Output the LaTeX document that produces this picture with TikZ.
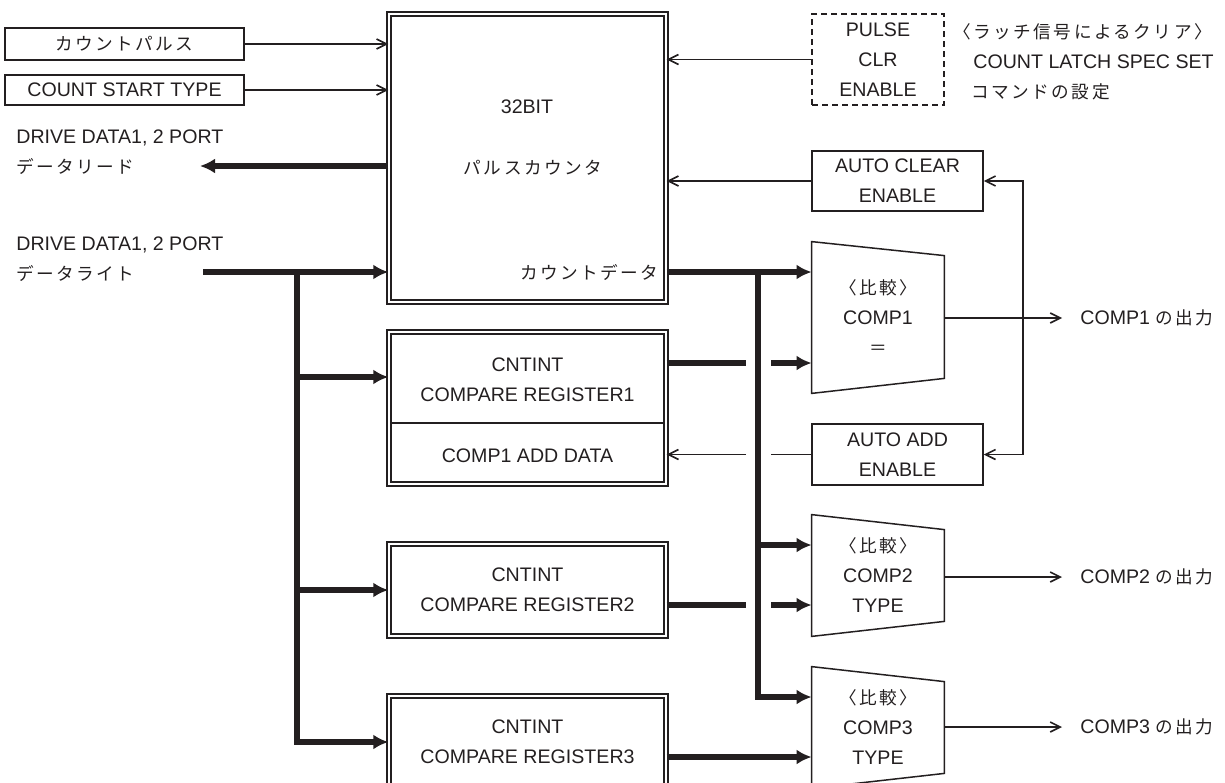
\documentclass[tikz,border=0pt]{standalone}
\usepackage{fontspec}
\setmainfont{Liberation Sans}
\newfontfamily\jp{Noto Sans CJK JP}[Scale=0.9,LetterSpace=14]
\usetikzlibrary{arrows.meta,calc}
\definecolor{ink}{HTML}{231F20}

\begin{document}
\begin{tikzpicture}[x=0.5pt,y=-0.5pt,
  every node/.style={text=ink,inner sep=0pt,align=center,font=\fontsize{9.8}{15}\selectfont},
  box/.style={draw=ink,line width=0.75pt},
  dbox/.style={draw=ink,double,double distance=1.2pt,line width=0.7pt},
  sig/.style={draw=ink,line width=0.8pt,-{Straight Barb[length=5pt,width=5pt]}},
  sigl/.style={draw=ink,line width=0.8pt},
  bus/.style={draw=ink,line width=2.6pt,-{Latex[length=7.5pt,width=7.5pt]}},
  busl/.style={draw=ink,line width=2.6pt},
  cmpbox/.style={minimum width=66pt}]
  \useasboundingbox (0,0) rectangle (1225,782);
  \clip (0,0) rectangle (1225,782);
  % counter block
  \node[dbox,minimum width=138.5pt,minimum height=144pt] (cnt) at (527.5,158) {};
  \node (cnt32) at (527,107) {32BIT};
  \node (cntjp) at (533,168) {\jp パルスカウンタ};
  \coordinate (cbus) at (758,272);
  \node[anchor=east] (cntdat) at ($(cnt.east |- cbus)+(-8,0)$) {\jp カウントデータ};
  % inputs on the left
  \node[box,minimum width=119.5pt,minimum height=16pt] (pls) at (124.5,44) {\jp カウントパルス};
  \node[box,minimum width=119.5pt,minimum height=15pt] (cst) at (124.5,90) {COUNT START TYPE};
  \draw[sig] (pls.east) -- (pls.east -| cnt.west);
  \draw[sig] (cst.east) -- (cst.east -| cnt.west);
  \node[anchor=west,align=left] (rdtxt) at (16,152) {DRIVE DATA1, 2 PORT\\{\jp データリード}};
  \node[anchor=west,align=left] (wrtxt) at (16,259) {DRIVE DATA1, 2 PORT\\{\jp データライト}};
  \coordinate (rdend) at (200,166);
  \coordinate (wrst) at (203,272);
  \coordinate (lbus) at (297,272);
  \draw[bus] (rdend -| cnt.west) -- (rdend);
  \draw[bus] (wrst) -- (wrst -| cnt.west);
  % latch clear and auto clear
  \node[box,dash pattern=on 3pt off 2pt,minimum width=66pt,minimum height=45.5pt] (clr) at (878,59.5) {PULSE\\CLR\\ENABLE};
  \node[anchor=west] (nt1) at (953,32) {\jp 〈ラッチ信号によるクリア〉};
  \node[anchor=west] (nt2) at (973,62) {COUNT LATCH SPEC SET};
  \node[anchor=west] (nt3) at (971,92) {\jp コマンドの設定};
  \draw[sig] (clr.west) -- (clr.west -| cnt.east);
  \node[box,minimum width=85.5pt,minimum height=30pt] (aclr) at (897.5,181) {AUTO CLEAR\\ENABLE};
  \draw[sig] (aclr.west) -- (aclr.west -| cnt.east);
  % compare registers
  \node[dbox,minimum width=138.5pt,minimum height=76pt] (reg1) at (527.5,408) {};
  \draw[sigl] ($(reg1.west)+(2,15)$) -- ($(reg1.east)+(-2,15)$);
  \node (reg1a) at (527.5,380) {CNTINT\\COMPARE REGISTER1};
  \node (reg1b) at (527.5,456) {COMP1 ADD DATA};
  \node[dbox,minimum width=138.5pt,minimum height=46pt] (reg2) at (527.5,590) {CNTINT\\COMPARE REGISTER2};
  \node[dbox,minimum width=138.5pt,minimum height=46pt] (reg3) at (527.5,742) {CNTINT\\COMPARE REGISTER3};
  \coordinate (r1in) at ([yshift=15.5pt]reg1.west);
  \draw[bus] (lbus) |- (reg3.west);
  \draw[bus] (lbus |- r1in) -- (r1in);
  \draw[bus] (lbus |- reg2.west) -- (reg2.west);
  % comparators
  \node[cmpbox,minimum height=75.5pt] (cmp1) at (878,317.5) {{\jp 〈比較〉}\\COMP1\\{\jp ＝}};
  \node[cmpbox,minimum height=60.5pt] (cmp2) at (878,575.5) {{\jp 〈比較〉}\\COMP2\\TYPE};
  \node[cmpbox,minimum height=60.5pt] (cmp3) at (878,727.5) {{\jp 〈比較〉}\\COMP3\\TYPE};
  \draw[box] (cmp1.north west) -- ([yshift=-7pt]cmp1.north east) -- ([yshift=7.5pt]cmp1.south east) -- (cmp1.south west) -- cycle;
  \foreach \c in {cmp2,cmp3}
    \draw[box] (\c.north west) -- ([yshift=-7.5pt]\c.north east) -- ([yshift=7.5pt]\c.south east) -- (\c.south west) -- cycle;
  % count data bus
  \coordinate (gapl) at (746,0);
  \coordinate (gapr) at (771,0);
  \coordinate (c2in) at ([yshift=15.25pt]cmp2.west);
  \coordinate (c3in) at ([yshift=15.25pt]cmp3.west);
  \draw[bus] (cbus -| cnt.east) -- (cbus -| cmp1.west);
  \draw[bus] (cbus) |- (c3in);
  \draw[bus] (cbus |- c2in) -- (c2in);
  % register outputs, broken where they cross the bus
  \coordinate (r1out) at ([yshift=22.5pt]reg1.east);
  \coordinate (r2out) at ([yshift=-7.5pt]reg2.east);
  \coordinate (r3out) at ([yshift=-7.5pt]reg3.east);
  \draw[busl] (r1out) -- (r1out -| gapl);
  \draw[bus] (r1out -| gapr) -- (r1out -| cmp1.west);
  \draw[busl] (r2out) -- (r2out -| gapl);
  \draw[bus] (r2out -| gapr) -- (r2out -| cmp2.west);
  \draw[bus] (r3out) -- (r3out -| cmp3.west);
  % auto add
  \node[box,minimum width=85.5pt,minimum height=30.5pt] (aadd) at (897.5,454.5) {AUTO ADD\\ENABLE};
  \draw[sigl] (aadd.west) -- (aadd.west -| gapr);
  \draw[sig] (aadd.west -| gapl) -- (aadd.west -| reg1.east);
  % outputs
  \node[anchor=west] (out1) at (1080,318) {COMP1 {\jp の出力}};
  \node[anchor=west] (out2) at (1080,577) {COMP2 {\jp の出力}};
  \node[anchor=west] (out3) at (1080,727) {COMP3 {\jp の出力}};
  \draw[sig] (cmp1.east |- out1) -- ([xshift=-9pt]out1.west);
  \draw[sig] (cmp2.east |- out2) -- ([xshift=-9pt]out2.west);
  \draw[sig] (cmp3.east |- out3) -- ([xshift=-9pt]out3.west);
  \coordinate (fb) at (1023,318);
  \draw[sig] (fb) |- (aclr.east);
  \draw[sig] (fb) |- (aadd.east);
\end{tikzpicture}
\end{document}
